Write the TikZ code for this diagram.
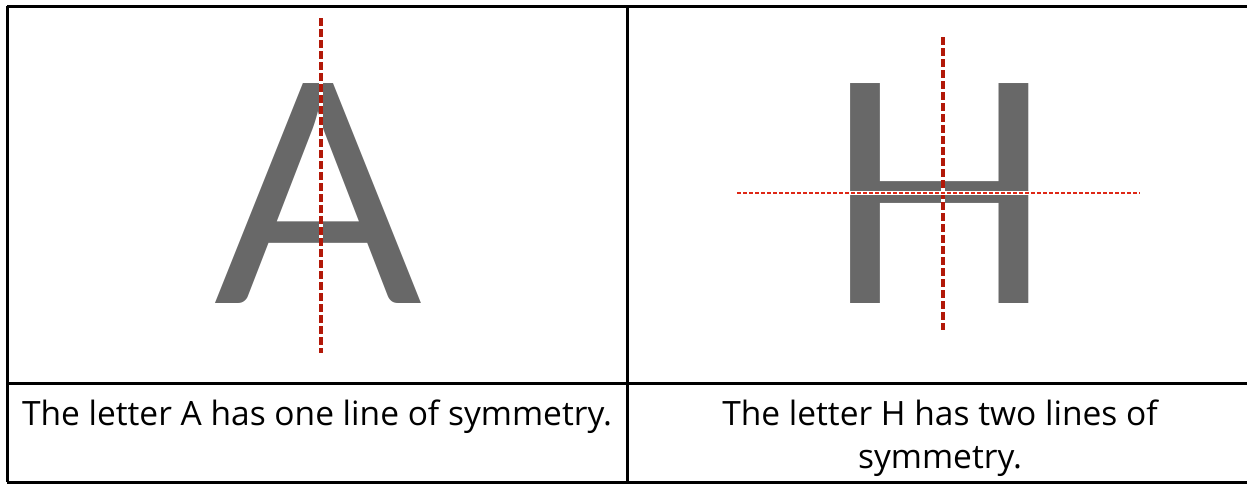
\documentclass[tikz,border=0pt]{standalone}
\usepackage{fontspec}
\setmainfont{Lato}
\newfontfamily\captionfont{Open Sans}
\usepackage{xcolor}
\usepackage{tikz}
\usetikzlibrary{positioning, calc}
\definecolor{glyphgray}{RGB}{104,104,104}
\definecolor{axisdark}{RGB}{178,24,8}
\definecolor{axisred}{RGB}{222,40,22}
\tikzset{
  gridline/.style={draw=black, line width=3},
  bigletter/.style={
    inner sep=0pt, anchor=base, text=glyphgray,
    font=\fontsize{307}{307}\selectfont
  },
  captiontext/.style={
    inner sep=0pt, anchor=base, align=center,
    font=\captionfont\fontsize{33.5}{43}\selectfont
  },
  halo/.style={draw=white, line width=4.5},
  axisdashed/.style={draw=axisdark, line width=4, dash pattern=on 8 off 3},
  axisdotted/.style={draw=axisred, line width=2.5, dash pattern=on 4 off 2},
}

\begin{document}
\begin{tikzpicture}[x=1pt, y=-1pt]
  \useasboundingbox (0,0) rectangle (1247,483);

  % Table frame
  \draw[gridline] (7,6) -- (1247,6);
  \draw[gridline] (7,383) -- (1247,383);
  \draw[gridline] (7,482) -- (1247,482);
  \draw[gridline] (7,6) -- (7,482);
  \draw[gridline] (627,6) -- (627,482);

  % Letter A
  \node[bigletter] (letA) at (318.5,303) {A};
  \coordinate (aTop) at (321,18);
  \coordinate (aBot) at (321,353);
  \draw[halo] (aTop) -- (aBot);
  \draw[axisdashed] (aTop) -- (aBot);

  % Letter H
  \node[bigletter] (letH) at (939.5,303) {H};
  \coordinate (hTop) at (943,37);
  \coordinate (hBot) at (943,330);
  \coordinate (hLeft) at (737,193);
  \coordinate (hRight) at (1140,193);
  \draw[halo] (hTop) -- (hBot);
  \draw[axisdashed] (hTop) -- (hBot);
  \draw[halo, line width=3.5] (hLeft) -- (hRight);
  \draw[axisdotted] (hLeft) -- (hRight);

  % Captions
  \node[captiontext] (capA) at (317,425)
    {The letter A has one line of symmetry.};
  \node[captiontext] (capH) at (940,468)
    {The letter H has two lines of\\symmetry.};
\end{tikzpicture}
\end{document}
